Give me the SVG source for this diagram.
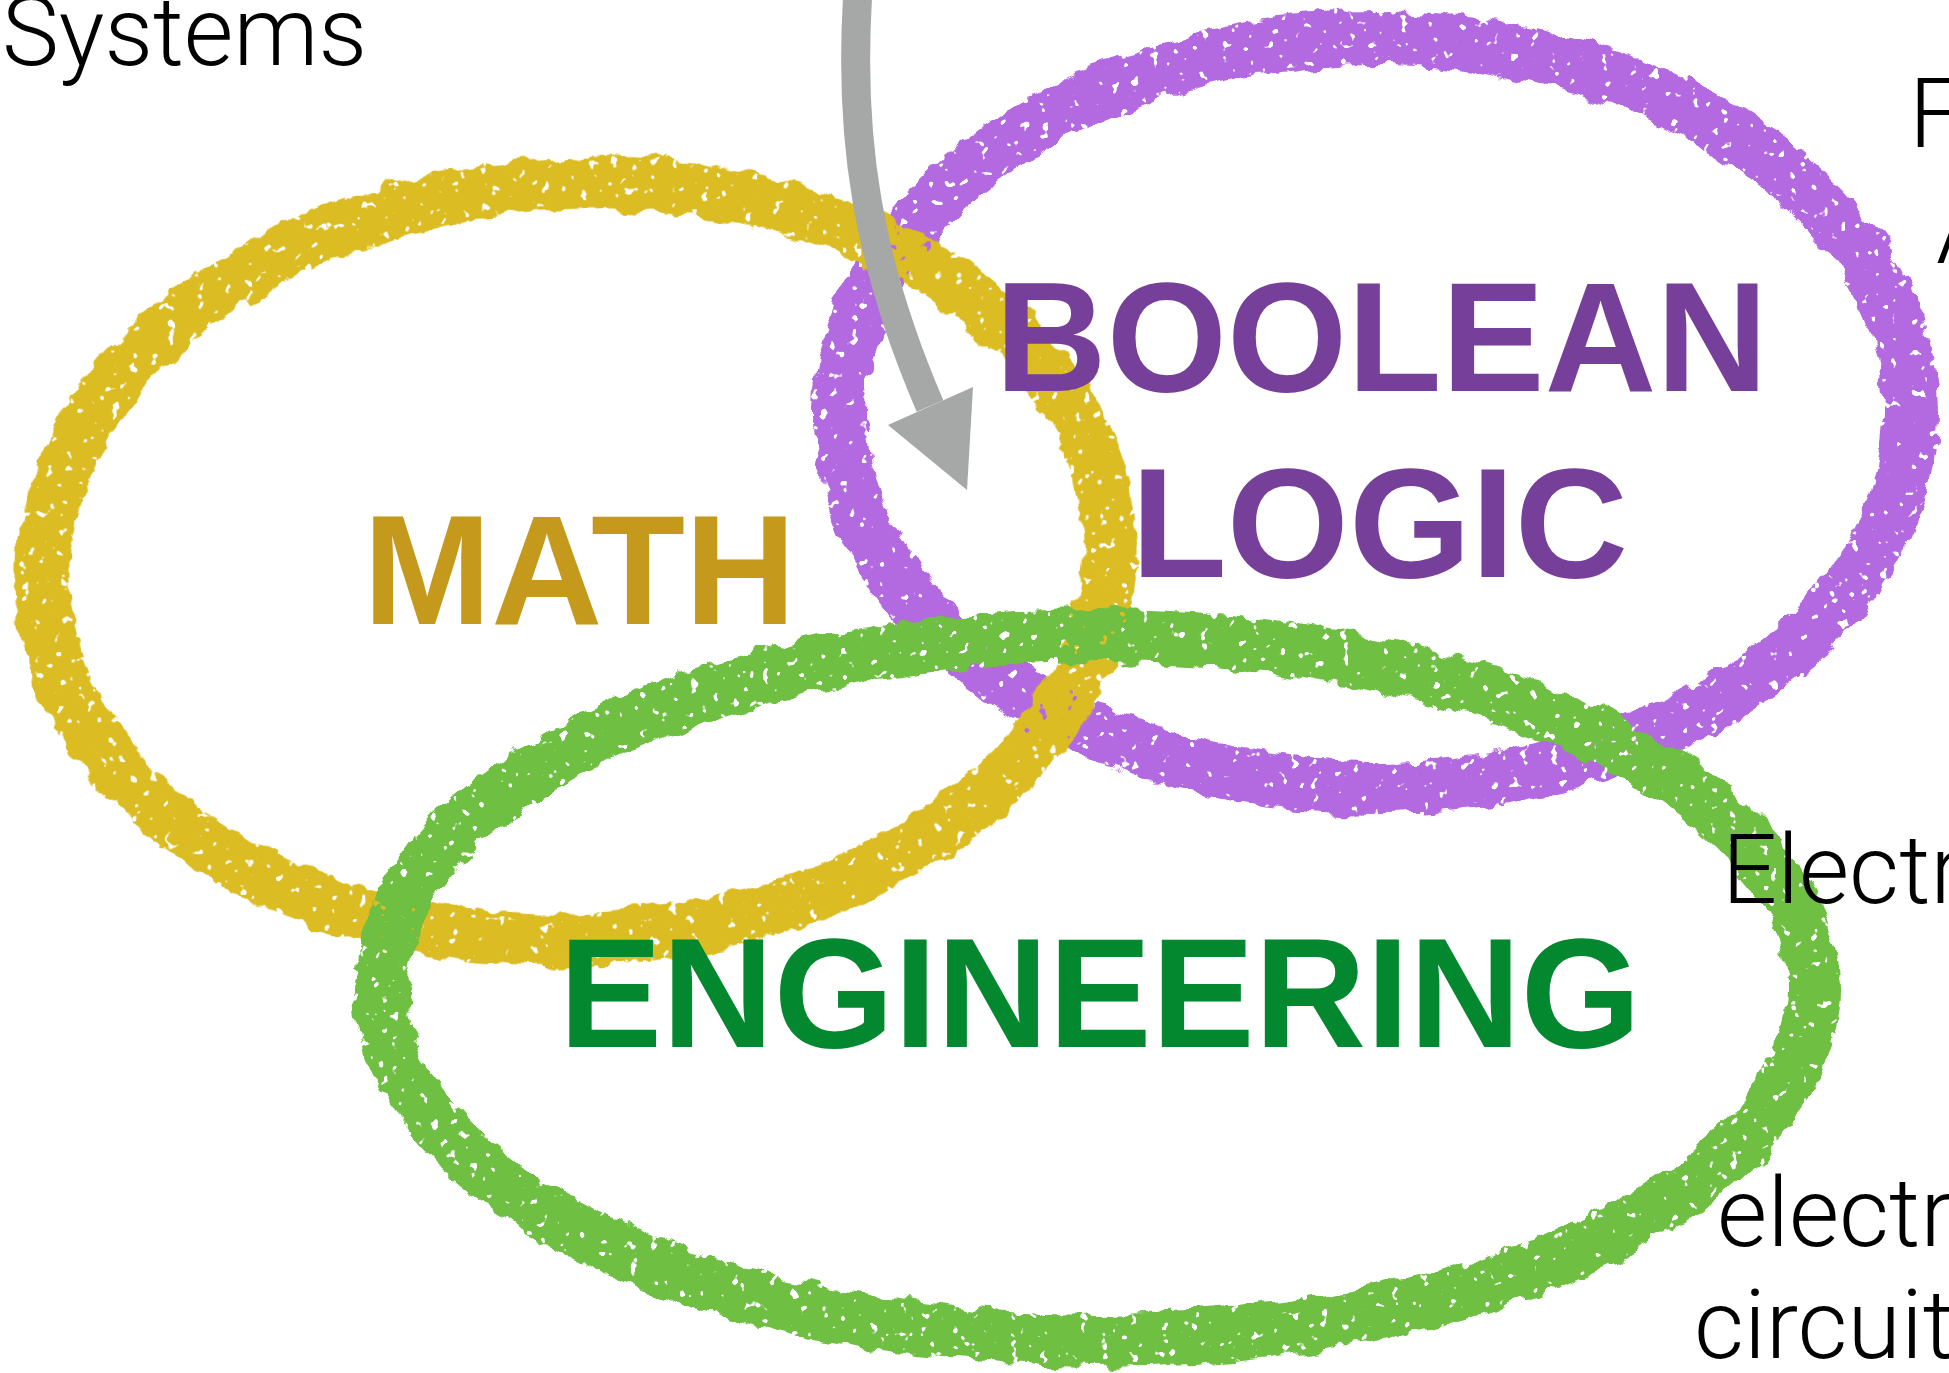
<svg xmlns="http://www.w3.org/2000/svg" width="1949" height="1373" viewBox="0 0 1949 1373">
<style>
.ring{fill:none;stroke-width:54;filter:url(#chalk)}
.big{font-family:"Liberation Sans",Arial,sans-serif;font-weight:bold;font-size:155px}
.lt{font-family:Roboto,"Liberation Sans",sans-serif;font-weight:300;font-size:97px;fill:#000}
</style>
<defs>
<filter id="chalk" x="-10%" y="-10%" width="120%" height="120%">
<feTurbulence type="fractalNoise" baseFrequency="0.04" numOctaves="3" seed="3" result="n"/>
<feDisplacementMap in="SourceGraphic" in2="n" scale="18" xChannelSelector="R" yChannelSelector="G" result="d"/>
<feTurbulence type="fractalNoise" baseFrequency="0.1" numOctaves="2" seed="9" result="n2"/>
<feColorMatrix in="n2" type="matrix" values="0 0 0 0 0  0 0 0 0 0  0 0 0 0 0  22 0 0 0 -15.0" result="holes"/>
<feComposite in="d" in2="holes" operator="out"/>
</filter>
</defs>
<rect width="1949" height="1373" fill="#fff"/>
<g id="boolean-logic">
<ellipse class="ring" cx="1376" cy="413" rx="535" ry="374" stroke="#B36BE1"/>
</g>
<g id="math">
<ellipse class="ring" cx="576" cy="562" rx="534" ry="378" stroke="#DBBC22" transform="rotate(-3 576 562)"/>
</g>
<g id="engineering">
<ellipse class="ring" cx="1097" cy="988" rx="716" ry="352" stroke="#6EBF43"/>
</g>
<g id="connectors">
<path d="M858 -10 C848 140 868 262 930 406" fill="none" stroke="#A5A8A7" stroke-width="29"/>
<polygon points="888,425 973,387 967,490" fill="#A5A8A7"/>
</g>
<g id="labels">
<text class="big" x="363" y="624" fill="#C4991C" textLength="433" lengthAdjust="spacingAndGlyphs">MATH</text>
<text class="big" x="995" y="391" fill="#763F9A" textLength="773" lengthAdjust="spacingAndGlyphs">BOOLEAN</text>
<text class="big" x="1131" y="577" fill="#763F9A" textLength="497" lengthAdjust="spacingAndGlyphs">LOGIC</text>
<text class="big" x="559" y="1047" fill="#03882F" textLength="1082" lengthAdjust="spacingAndGlyphs">ENGINEERING</text>
</g>
<g id="side-text">
<text class="lt" x="2" y="65" textLength="365" lengthAdjust="spacingAndGlyphs">Systems</text>
<text class="lt" x="1909" y="147">F</text>
<text class="lt" x="1936" y="263">A</text>
<text class="lt" x="1722" y="903">Electr</text>
<text class="lt" x="1717" y="1246">electr</text>
<text class="lt" x="1694" y="1358">circuit</text>
</g>
</svg>
